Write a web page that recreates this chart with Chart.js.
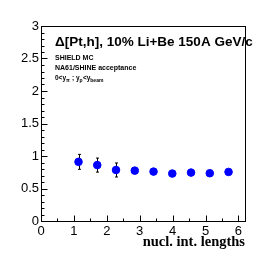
<!DOCTYPE html>
<html>
<head>
<meta charset="utf-8">
<script src="https://cdn.jsdelivr.net/npm/chart.js@4/dist/chart.umd.min.js"></script>
<style>
    body { margin: 0; background: #fff; }
    #wrap { width: 273px; height: 260px; }
</style>
</head>
<body>
<div id="wrap"><canvas id="myChart"></canvas></div>
<script>
// values
const lengths = [1.14, 1.71, 2.28, 2.85, 3.42, 3.99, 4.56, 5.13, 5.70];
const deltaValues = [0.91, 0.86, 0.785, 0.775, 0.76, 0.73, 0.745, 0.735, 0.755];
const deltaErrors = [0.115, 0.108, 0.108, 0.025, 0.02, 0.02, 0.02, 0.02, 0.02];

const titleText = '\u0394[Pt,h], 10% Li+Be 150A GeV/c';
const infoLines = ['SHIELD MC', 'NA61/SHINE acceptance'];
const xTitle = 'nucl. int. lengths';

// draws the frame, inward ticks, error bars and the texts
const rootStyle = {
    id: 'rootStyle',
    beforeDatasetsDraw(chart) {
        const ctx = chart.ctx;
        const xs = chart.scales.x;
        const ys = chart.scales.y;
        ctx.save();
        ctx.strokeStyle = '#000';
        ctx.lineWidth = 1;
        // error bars
        lengths.forEach(function(x, i) {
            const px = Math.round(xs.getPixelForValue(x)) + 0.5;
            const top = ys.getPixelForValue(deltaValues[i] + deltaErrors[i]);
            const bot = ys.getPixelForValue(deltaValues[i] - deltaErrors[i]);
            ctx.beginPath();
            ctx.moveTo(px, top); ctx.lineTo(px, bot);
            ctx.moveTo(px - 1.5, top); ctx.lineTo(px + 1.5, top);
            ctx.moveTo(px - 1.5, bot); ctx.lineTo(px + 1.5, bot);
            ctx.stroke();
        });
        ctx.restore();
    },
    afterDraw(chart) {
        const ctx = chart.ctx;
        const a = chart.chartArea;
        const xs = chart.scales.x;
        const ys = chart.scales.y;
        ctx.save();
        ctx.strokeStyle = '#000';
        ctx.lineWidth = 1;
        const l = Math.round(a.left) + 0.5, r = Math.round(a.right) + 0.5;
        const t = Math.round(a.top) + 0.5, b = Math.round(a.bottom) + 0.5;
        ctx.strokeRect(l, t, r - l, b - t);

        ctx.beginPath();
        for (let k = 0; k <= 30; k++) {
            const v = k / 10;
            const py = Math.round(ys.getPixelForValue(v)) + 0.5;
            const len = (k % 5 === 0) ? 6 : 3;
            ctx.moveTo(l, py); ctx.lineTo(l + len, py);
        }
        for (let k = 0; k <= 12; k++) {
            const v = k / 2;
            const px = Math.round(xs.getPixelForValue(v)) + 0.5;
            const len = (k % 2 === 0) ? 6 : 3;
            ctx.moveTo(px, b); ctx.lineTo(px, b - len);
        }
        ctx.stroke();

        ctx.fillStyle = '#000';
        ctx.textBaseline = 'alphabetic';
        ctx.textAlign = 'left';
        ctx.font = 'bold 13.5px "Liberation Sans", Arial, sans-serif';
        ctx.fillText(titleText, 55, 46);

        ctx.font = 'bold 7px "Liberation Sans", Arial, sans-serif';
        ctx.fillText(infoLines[0], 55, 60);
        ctx.fillText(infoLines[1], 55, 70);

        // 0<y_pi ; y_p<y_beam
        const parts = [['0<y', false], ['\u03c0', true], [' ; y', false], ['p', true], ['<y', false], ['beam', true]];
        let cx = 55;
        parts.forEach(function(p) {
            ctx.font = p[1] ? 'bold 5px "Liberation Sans", Arial, sans-serif' : 'bold 6.5px "Liberation Sans", Arial, sans-serif';
            ctx.fillText(p[0], cx, p[1] ? 82 : 80);
            cx += ctx.measureText(p[0]).width + (p[1] ? 0.3 : 0);
        });

        ctx.textAlign = 'right';
        ctx.font = 'bold 14.5px "Liberation Serif", "Times New Roman", serif';
        ctx.fillText(xTitle, a.right, 246);
        ctx.restore();
    }
};

const ctx = document.getElementById('myChart').getContext('2d');

new Chart(ctx, {
    type: 'scatter',
    data: {
        datasets: [{
            data: lengths.map(function(x, i) { return { x: x, y: deltaValues[i] }; }),
            backgroundColor: '#0000ff',
            borderColor: '#0000ff',
            pointRadius: 3.8,
            pointHoverRadius: 3.8
        }]
    },
    options: {
        responsive: true,
        maintainAspectRatio: false,
        animation: false,
        events: [],
        layout: {
            padding: { top: 26, right: 28, left: 0, bottom: 0 }
        },
        plugins: {
            legend: { display: false },
            tooltip: { enabled: false }
        },
        scales: {
            x: {
                type: 'linear',
                min: 0,
                max: 6.2,
                afterFit: function(scale) { scale.height = 39; },
                afterBuildTicks: function(scale) {
                    scale.ticks = [0, 1, 2, 3, 4, 5, 6].map(function(v) { return { value: v }; });
                },
                grid: { display: false, drawTicks: false },
                border: { display: false },
                ticks: {
                    padding: 3,
                    color: '#000',
                    maxRotation: 0,
                    font: { family: '"Liberation Sans", Arial, sans-serif', size: 13 },
                    callback: function(v) { return String(v); }
                }
            },
            y: {
                min: 0,
                max: 3,
                afterFit: function(scale) { scale.width = 41; },
                grid: { display: false, drawTicks: false },
                border: { display: false },
                ticks: {
                    stepSize: 0.5,
                    padding: 2,
                    color: '#000',
                    font: { family: '"Liberation Sans", Arial, sans-serif', size: 13 },
                    callback: function(v) { return String(v); }
                }
            }
        }
    },
    plugins: [rootStyle]
});
</script>
</body>
</html>
